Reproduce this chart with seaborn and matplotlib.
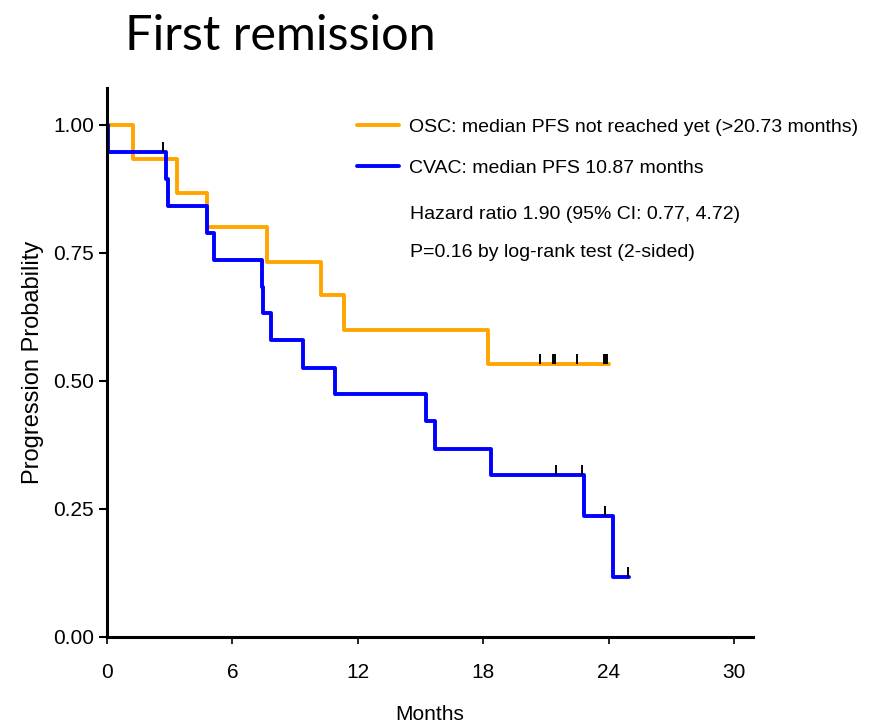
import numpy as np
import pandas as pd
import matplotlib
matplotlib.use("Agg")
import matplotlib.pyplot as plt
from matplotlib.path import Path
import seaborn as sns

# Kaplan-Meier step curves (time in months, probability)
osc_time = [0, 1.26, 3.35, 4.76, 7.64, 10.22, 11.34, 18.23, 24.02]
osc_prob = [1.0, 0.933, 0.867, 0.800, 0.733, 0.667, 0.600, 0.533, 0.533]
osc_cens_time = [20.7, 21.34, 21.44, 22.5, 23.78, 23.83, 23.88, 23.92]
osc_cens_prob = [0.533] * 8

cvac_time = [0, 0.05, 2.82, 2.9, 4.78, 5.1, 7.4, 7.45, 7.85, 9.38, 10.9,
             15.26, 15.7, 18.37, 22.8, 24.2, 24.95]
cvac_prob = [1.0, 0.947, 0.895, 0.842, 0.789, 0.737, 0.684, 0.632, 0.579,
             0.526, 0.474, 0.421, 0.368, 0.316, 0.237, 0.118, 0.118]
cvac_cens_time = [2.66, 21.5, 22.7, 23.8, 24.9]
cvac_cens_prob = [0.947, 0.316, 0.316, 0.237, 0.118]

labels = ["OSC: median PFS not reached yet (>20.73 months)",
          "CVAC: median PFS 10.87 months"]
colors = ["#FFA500", "#0000FF"]
x_ticks = [0, 6, 12, 18, 24, 30]
y_ticks = [0.0, 0.25, 0.5, 0.75, 1.0]

sns.set_style("ticks")
plt.rcParams["font.family"] = ["Liberation Sans", "DejaVu Sans"]
for key in ["text.color", "axes.labelcolor", "xtick.color", "ytick.color"]:
    plt.rcParams[key] = "black"

fig = plt.figure(figsize=(8.72, 7.25), dpi=100)
ax = fig.add_axes([0.1227, 0.1214, 0.7408, 0.7572])

df_osc = pd.DataFrame({"t": osc_time, "p": osc_prob})
df_cvac = pd.DataFrame({"t": cvac_time, "p": cvac_prob})
sns.lineplot(data=df_osc, x="t", y="p", ax=ax, color=colors[0], lw=2.8,
             drawstyle="steps-post", estimator=None, sort=False, label=labels[0])
sns.lineplot(data=df_cvac, x="t", y="p", ax=ax, color=colors[1], lw=2.8,
             drawstyle="steps-post", estimator=None, sort=False, label=labels[1])

# censor ticks drawn upward from the curve
tick_mark = Path([(0, 0), (0, 1)])
cens = pd.DataFrame({"t": osc_cens_time + cvac_cens_time,
                     "p": osc_cens_prob + cvac_cens_prob})
sns.scatterplot(data=cens, x="t", y="p", ax=ax, marker=tick_mark, s=210,
                color="black", edgecolor="black", linewidth=1.4, legend=False, zorder=3)

ax.set_xlim(0, 30.9)
ax.set_ylim(0, 1.072)
ax.set_xticks(x_ticks)
ax.set_yticks(y_ticks)
ax.set_yticklabels([f"{v:.2f}" for v in y_ticks])
ax.tick_params(axis="y", labelsize=15, width=1.5, length=6)
ax.tick_params(axis="x", labelsize=15, width=1.2, length=5, pad=14)
for s in ["left", "bottom"]:
    ax.spines[s].set_linewidth(2.2)
    ax.spines[s].set_color("black")
sns.despine(ax=ax)

ax.set_xlabel("Months", fontsize=15, labelpad=16)
ax.set_ylabel("Progression Probability", fontsize=17, labelpad=6)

ax.legend(loc="upper left", bbox_to_anchor=(0.36, 0.976), frameon=False,
          fontsize=14, handlelength=2.15, handletextpad=0.5, labelspacing=1.2)

ax.text(0.469, 0.7687, "Hazard ratio 1.90 (95% CI: 0.77, 4.72)", transform=ax.transAxes,
        fontsize=14, va="center")
ax.text(0.469, 0.6995, "P=0.16 by log-rank test (2-sided)", transform=ax.transAxes,
        fontsize=14, va="center")

fig.text(0.143, 0.950, "First remission", fontsize=35, va="center",
         family=["Lato", "DejaVu Sans"])

fig.savefig("out.png", dpi=100)
